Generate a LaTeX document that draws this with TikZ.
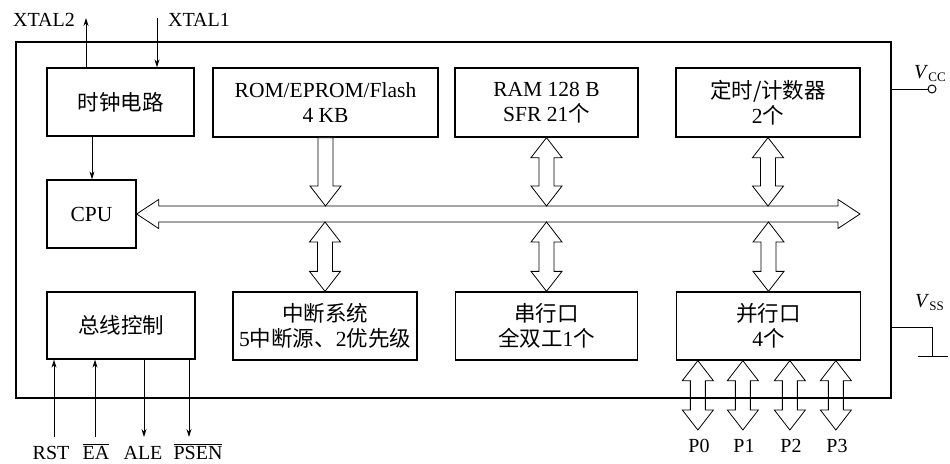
\documentclass[tikz,border=0pt]{standalone}
\usepackage{fontspec}
\setmainfont{Liberation Serif}
\newfontfamily\cjk{Noto Sans CJK SC}
\usetikzlibrary{arrows.meta,calc}
\newcommand\mydblarrow[3][fat]{\draw[#1] let \p1=(#2),\p2=(#3) in
 (\x1,\y1) -- (\x1+15.5pt,\y1-20pt) -- (\x1+7.5pt,\y1-20pt) -- (\x1+7.5pt,\y2+20pt) -- (\x1+15.5pt,\y2+20pt) -- (\x1,\y2) -- (\x1-15.5pt,\y2+20pt) -- (\x1-7.5pt,\y2+20pt) -- (\x1-7.5pt,\y1-20pt) -- (\x1-15.5pt,\y1-20pt) -- cycle;}
\newcommand\mydownarrow[2]{\draw[fat] let \p1=(#1),\p2=(#2) in
 (\x1-7.5pt,\y1) -- (\x1+7.5pt,\y1) -- (\x1+7.5pt,\y2+20pt) -- (\x1+15.5pt,\y2+20pt) -- (\x1,\y2) -- (\x1-15.5pt,\y2+20pt) -- (\x1-7.5pt,\y2+20pt) -- cycle;}
\begin{document}
\begin{tikzpicture}[x=1pt,y=-1pt,
  box/.style={draw,line width=1.3pt,inner sep=0pt,align=center,font=\fontsize{21.5}{25}\selectfont},
  sig/.style={line width=0.8pt,-{Stealth[length=8pt,width=5pt]}},
  fat/.style={draw,line width=0.8pt,fill=white},
  openfat/.style={draw,line width=0.8pt},
  lbl/.style={font=\fontsize{20}{24}\selectfont,inner sep=0pt},
  blbl/.style={font=\fontsize{20}{24}\selectfont,inner sep=0pt,anchor=base}]
\useasboundingbox[fill=white] (0,0) rectangle (950,463);

% outer chip box
\node[draw,line width=1.3pt,minimum width=875pt,minimum height=356pt,inner sep=0pt] (chip) at (453.5,220) {};

% blocks
\node[box,minimum width=147pt,minimum height=68pt] (clk) at (120.5,102) {{\cjk 时钟电路}};
\node[box,minimum width=225pt,minimum height=69pt] (rom) at (325.5,102.5) {ROM/EPROM/Flash\\4 KB};
\node[box,minimum width=183pt,minimum height=69pt] (ram) at (546.5,102.5) {RAM 128 B\\SFR 21{\cjk 个}};
\node[box,minimum width=184pt,minimum height=69pt] (tim) at (768,102.5) {{\cjk 定时/计数器}\\2{\cjk 个}};
\node[box,minimum width=89pt,minimum height=68pt] (cpu) at (91.5,214) {CPU};
\node[box,minimum width=148pt,minimum height=67pt] (bus) at (121,325.5) {{\cjk 总线控制}};
\node[box,minimum width=184pt,minimum height=68pt] (int) at (325,326) {{\cjk 中断系统}\\5{\cjk 中断源、}2{\cjk 优先级}};
\node[box,minimum width=182pt,minimum height=68pt] (ser) at (546.5,326) {{\cjk 串行口}\\{\cjk 全双工}1{\cjk 个}};
\node[box,minimum width=184pt,minimum height=68pt] (par) at (768.5,326) {{\cjk 并行口}\\4{\cjk 个}};

% internal bus
\coordinate (busend) at (860,214);
\coordinate (bt) at (0,206);
\coordinate (bb) at (0,222);
\draw[fat] let \p1=(cpu.east),\p2=(busend) in
 (\x1,\y1) -- (\x1+22pt,\y1+14.5pt) -- (\x1+22pt,\y1+8pt) -- (\x2-22pt,\y1+8pt) -- (\x2-22pt,\y1+14.5pt) -- (\x2,\y1) -- (\x2-22pt,\y1-14.5pt) -- (\x2-22pt,\y1-8pt) -- (\x1+22pt,\y1-8pt) -- (\x1+22pt,\y1-14.5pt) -- cycle;

% fat arrows to/from bus
\mydownarrow{rom.south}{rom.south |- bt}
\mydblarrow{ram.south}{ram.south |- bt}
\mydblarrow{tim.south}{tim.south |- bt}
\mydblarrow{int.north |- bb}{int.north}
\mydblarrow{ser.north |- bb}{ser.north}
\mydblarrow{par.north |- bb}{par.north}

% port arrows (outline only: chip border shows through)
\coordinate (pb) at (0,430);
\coordinate (p0t) at ($(par.south west)+(22,0)$);
\coordinate (p1t) at ($(par.south west)+(67,0)$);
\coordinate (p2t) at ($(par.south west)+(114,0)$);
\coordinate (p3t) at ($(par.south west)+(160,0)$);
\mydblarrow[openfat]{p0t}{p0t |- pb}
\mydblarrow[openfat]{p1t}{p1t |- pb}
\mydblarrow[openfat]{p2t}{p2t |- pb}
\mydblarrow[openfat]{p3t}{p3t |- pb}
\node[lbl] (P0) at (699,446) {P0};
\node[lbl] (P1) at (744,446) {P1};
\node[lbl] (P2) at (791,446) {P2};
\node[lbl] (P3) at (837,446) {P3};

% clock signals
\node[lbl] (xtal2) at (44,20) {XTAL2};
\node[lbl] (xtal1) at (199,20) {XTAL1};
\coordinate (x2) at (86,18);
\coordinate (x1) at (157,18);
\draw[sig] (x2 |- clk.north) -- (x2);
\draw[sig] (x1) -- (x1 |- clk.north);
\coordinate (cc) at (92,0);
\draw[sig] (cc |- clk.south) -- (cc |- cpu.north);

% bus control signals
\coordinate (sb) at (0,437);
\node[blbl] (rst) at (51,459) {RST};
\node[blbl] (ea) at (96,459) {$\overline{\mbox{EA}}$};
\node[blbl] (ale) at (143,459) {ALE};
\node[blbl] (psen) at (198,459) {$\overline{\mbox{PSEN}}$};
\coordinate (s1) at (54,0);
\coordinate (s2) at (95,0);
\coordinate (s3) at (144,0);
\coordinate (s4) at (189,0);
\draw[sig] (s1 |- sb) -- (s1 |- bus.south);
\draw[sig] (s2 |- sb) -- (s2 |- bus.south);
\draw[sig] (s3 |- bus.south) -- (s3 |- sb);
\draw[sig] (s4 |- bus.south) -- (s4 |- sb);

% power
\node[circle,draw,line width=1pt,minimum size=8pt,inner sep=0pt] (vcc) at (932,89) {};
\draw[line width=0.8pt] (vcc.west -| chip.east) -- (vcc.west);
\node[anchor=base west,inner sep=0pt,font=\fontsize{20}{24}\selectfont] (vccl) at (914,78) {\textit{V}\raisebox{-3pt}{\fontsize{13}{13}\selectfont CC}};
\coordinate (vss) at (932,327);
\coordinate (gnd) at (932,356);
\draw[line width=0.8pt] (vss -| chip.east) -- (vss) -- (gnd);
\draw[line width=1pt] ($(gnd)+(-14,0)$) -- ($(gnd)+(16,0)$);
\node[anchor=base west,inner sep=0pt,font=\fontsize{20}{24}\selectfont] (vssl) at (915,307) {\textit{V}\raisebox{-3pt}{\fontsize{13}{13}\selectfont SS}};
\end{tikzpicture}
\end{document}
